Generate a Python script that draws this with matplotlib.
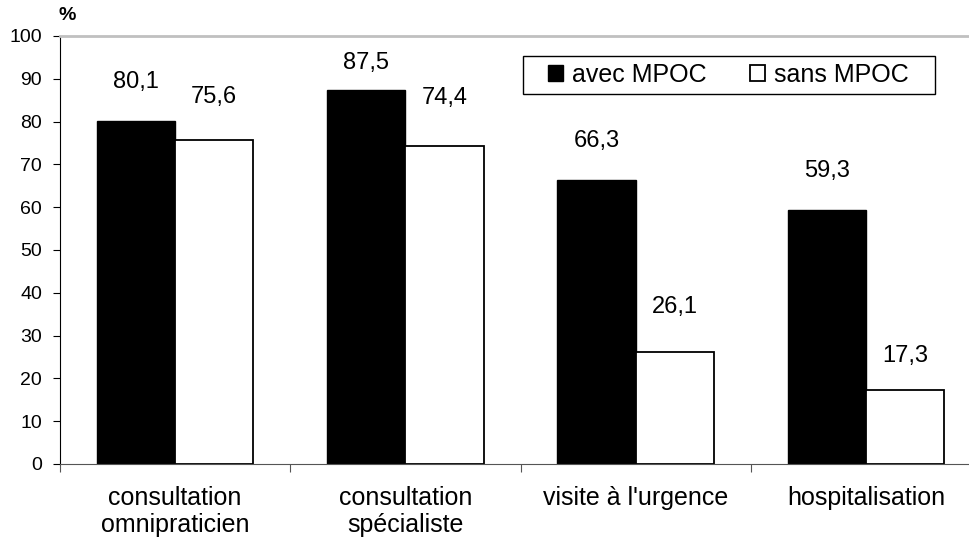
import numpy as np
import matplotlib.pyplot as plt
from matplotlib.patches import Rectangle

plt.rcParams['font.family'] = ['Liberation Sans', 'DejaVu Sans']

categories = ["consultation\nomnipraticien", "consultation\nspécialiste", "visite à l'urgence", "hospitalisation"]
avec = [80.1, 87.5, 66.3, 59.3]
sans = [75.6, 74.4, 26.1, 17.3]
series_names = ["avec MPOC", "sans MPOC"]

# where the value labels sit (data units, label centre), as placed in the original
avec_label_y = [89.3, 93.7, 75.5, 68.5]
sans_label_y = [85.7, 85.4, 36.7, 25.2]

W, H = 969, 544
fig = plt.figure(figsize=(W / 100, H / 100), dpi=100)
ax = fig.add_axes([60 / W, 80 / H, 921 / W, 428 / H])

x = np.arange(len(categories))
w = 0.34
b1 = ax.bar(x - w / 2, avec, w, color="black", edgecolor="black", linewidth=1, label=series_names[0])
b2 = ax.bar(x + w / 2, sans, w, color="white", edgecolor="black", linewidth=1.3, label=series_names[1])

for bars, vals, ys in [(b1, avec, avec_label_y), (b2, sans, sans_label_y)]:
    for r, v, yy in zip(bars, vals, ys):
        ax.text(r.get_x() + r.get_width() / 2, yy, f"{v:.1f}".replace(".", ","),
                ha="center", va="center", fontsize=17)

ax.set_xlim(-0.5, 3.5)
ax.set_ylim(0, 100)
ax.set_yticks(range(0, 101, 10))
ax.tick_params(axis="y", labelsize=14, length=5, direction="out", pad=8)

# category ticks between groups, labels centred under the groups
ax.set_xticks(np.arange(-0.5, 4, 1))
ax.set_xticklabels([])
ax.tick_params(axis="x", length=6, color="#555555")
for i, c in enumerate(categories):
    ax.text(i, -5.2, c, ha="center", va="top", fontsize=18, linespacing=1.15)

ax.spines["right"].set_visible(False)
ax.spines["top"].set_color("#c0c0c0")
ax.spines["top"].set_linewidth(2)
ax.spines["bottom"].set_color("#555555")
ax.spines["left"].set_color("black")

# legend box drawn separately so it matches the original frame
fig.patches.append(Rectangle((523 / W, 1 - 94 / H), 412 / W, 38 / H, transform=fig.transFigure,
                             facecolor="white", edgecolor="black", linewidth=1, zorder=5))
leg = fig.legend(loc="center left", bbox_to_anchor=(548 / W, 1 - 75 / H), ncol=2, fontsize=18,
                 frameon=False, handlelength=0.6, handleheight=0.6,
                 handletextpad=0.35, columnspacing=1.75, borderpad=0, borderaxespad=0)
leg.set_zorder(6)

fig.text(67 / W, 1 - 15 / H, "%", fontsize=14, fontweight="bold", ha="center", va="center")

fig.savefig("out.png", dpi=100)
